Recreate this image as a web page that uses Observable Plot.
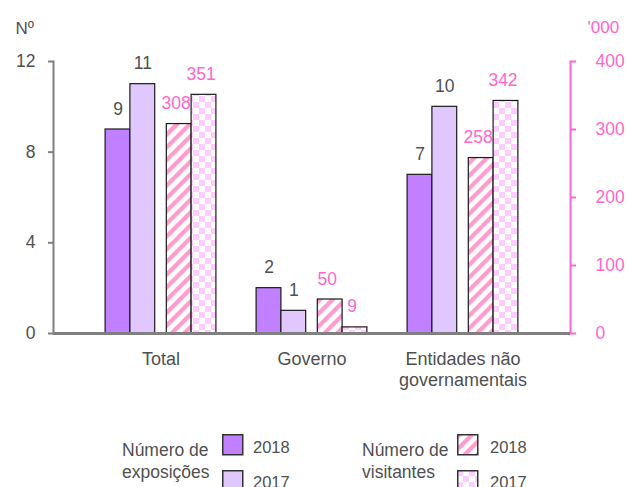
<!DOCTYPE html>
<html><head><meta charset="utf-8">
<script src="https://cdn.jsdelivr.net/npm/d3@7"></script>
<script src="https://cdn.jsdelivr.net/npm/@observablehq/plot@0.6"></script>
<style>
html,body{margin:0;padding:0;overflow:hidden;background:#fff;}
#wrap{position:relative;width:628px;height:487px;font-family:'Liberation Sans',Arial,sans-serif;}
.lg{position:absolute;font-size:17.5px;line-height:21.6px;color:#505050;white-space:nowrap;}
.yr{position:absolute;font-size:16.5px;line-height:21.6px;color:#505050;white-space:nowrap;}
.sw{position:absolute;}
</style></head><body><div id="wrap"></div>
<script>
// ---- data ----
const categories = ["Total", "Governo", "Entidades não governamentais"];
const exhibitions2018 = [9, 2, 7];
const exhibitions2017 = [11, 1, 10];
const visitors2018 = [308, 50, 258];
const visitors2017 = [351, 9, 342];
const leftTicks = [0, 4, 8, 12];
const rightTicks = [0, 100, 200, 300, 400];
const seriesKeys = ["e2018", "e2017", "v2018", "v2017"];
const legendGroups = ["Número de\nexposições", "Número de\nvisitantes"];
const legendYears = ["2018", "2017"];

// ---- styling / layout ----
const FONT = "'Liberation Sans', Arial, sans-serif";
const W = 628, H = 420, ML = 53, MR = 58, MT = 61, MB = 87;
const padOuter = 0.212;
const grey = "#505050", pink = "#ff66cc", axisGrey = "#808080";
const fills = {e2018: "#c080ff", e2017: "#e0c8ff", v2018: "url(#stripes)", v2017: "url(#checks)"};
const textFill = {e2018: grey, e2017: grey, v2018: pink, v2017: pink};
const barW = 24.8;
const offsets = {e2018: -43, e2017: -18.2, v2018: 18.2, v2017: 43};

const toLeft = d3.scaleLinear([0, 400], [0, 12]);
const sources = {e2018: exhibitions2018, e2017: exhibitions2017, v2018: visitors2018, v2017: visitors2017};

const rows = [];
categories.forEach((c, i) => {
  for (const s of seriesKeys) {
    const raw = sources[s][i];
    rows.push({category: c, series: s, label: raw, value: s[0] === "v" ? toLeft(raw) : raw});
  }
});

const bw = (W - ML - MR) / (categories.length + 2 * padOuter);
const inset = (bw - barW) / 2;

const marks = [];
for (const s of seriesKeys) {
  const data = rows.filter(r => r.series === s);
  marks.push(Plot.barY(data, {x: "category", y: "value", fill: fills[s], stroke: "#1a1a1a", strokeWidth: 1.2,
    insetLeft: inset, insetRight: inset, dx: offsets[s]}));
  marks.push(Plot.text(data, {x: "category", y: "value", text: "label", dx: offsets[s] - (s[0] === "v" ? 3 : 0), dy: -15,
    lineAnchor: "bottom", fill: textFill[s], fontSize: 17.5}));
}

const chart = Plot.plot({
  width: W, height: H,
  marginLeft: ML, marginRight: MR, marginTop: MT, marginBottom: MB,
  style: {fontFamily: FONT, fontSize: "17.5px", background: "white"},
  x: {domain: categories, paddingInner: 0, paddingOuter: padOuter, round: false},
  y: {domain: [0, 12]},
  marks: [
    ...marks,
    Plot.frame({anchor: "left", stroke: axisGrey, strokeWidth: 2}),
    Plot.frame({anchor: "right", stroke: pink, strokeWidth: 2}),
    Plot.ruleY([0], {stroke: axisGrey, strokeWidth: 3}),
    Plot.axisY(leftTicks, {anchor: "left", tickSize: 5, tickPadding: 13, stroke: axisGrey, strokeWidth: 2, fill: grey, fontSize: 17.5, label: null}),
    Plot.axisY(rightTicks.map(toLeft), {anchor: "right", tickSize: 5, tickPadding: 20, stroke: pink, strokeWidth: 2, fill: pink, fontSize: 17.5,
      tickFormat: d => String(Math.round(toLeft.invert(d))), label: null}),
    Plot.axisX({tickSize: 0, tickPadding: 17, lineWidth: 9, lineHeight: 1.15, fill: grey, fontSize: 18, label: null}),
    Plot.text(["Nº"], {frameAnchor: "top-left", text: d => d, dx: -38, dy: -28, lineAnchor: "bottom", textAnchor: "start", fill: grey, fontSize: 17}),
    Plot.text(["'000"], {frameAnchor: "top-right", text: d => d, dx: 17, dy: -29, lineAnchor: "bottom", textAnchor: "start", fill: pink, fontSize: 17})
  ]
});

const defs = d3.select(chart).insert("defs", ":first-child");
const st = defs.append("pattern").attr("id", "stripes").attr("patternUnits", "userSpaceOnUse")
  .attr("width", 9).attr("height", 9).attr("patternTransform", "rotate(45)");
st.append("rect").attr("width", 9).attr("height", 9).attr("fill", "#fff");
st.append("rect").attr("width", 4.3).attr("height", 9).attr("fill", "#ff9ccf");
const ck = defs.append("pattern").attr("id", "checks").attr("patternUnits", "userSpaceOnUse").attr("width", 12).attr("height", 12);
ck.append("rect").attr("width", 12).attr("height", 12).attr("fill", "#fff");
ck.append("rect").attr("width", 6).attr("height", 6).attr("fill", "#ffccff");
ck.append("rect").attr("x", 6).attr("y", 6).attr("width", 6).attr("height", 6).attr("fill", "#ffccff");

const wrap = document.getElementById("wrap");
wrap.appendChild(chart);

// ---- legend (HTML below the SVG) ----
const groupLeft = [122, 362], swatchLeft = [222, 457], yearLeft = [253, 490];
const swatchTop = [434, 470], yearTop = [437, 472];
legendGroups.forEach((g, gi) => {
  const t = document.createElement("div");
  t.className = "lg";
  t.style.left = groupLeft[gi] + "px"; t.style.top = "440px";
  t.innerHTML = g.replace("\n", "<br>");
  wrap.appendChild(t);
  legendYears.forEach((yr, yi) => {
    const key = seriesKeys[gi * 2 + yi];
    const s = d3.create("svg").attr("class", "sw").attr("width", 22).attr("height", 22)
      .style("left", swatchLeft[gi] + "px").style("top", swatchTop[yi] + "px");
    s.append("rect").attr("x", 0.75).attr("y", 0.75).attr("width", 20).attr("height", 20)
      .attr("fill", fills[key]).attr("stroke", "#333").attr("stroke-width", 1.5);
    wrap.appendChild(s.node());
    const y = document.createElement("div");
    y.className = "yr";
    y.style.left = yearLeft[gi] + "px"; y.style.top = yearTop[yi] + "px";
    y.textContent = yr;
    wrap.appendChild(y);
  });
});
</script></body></html>
